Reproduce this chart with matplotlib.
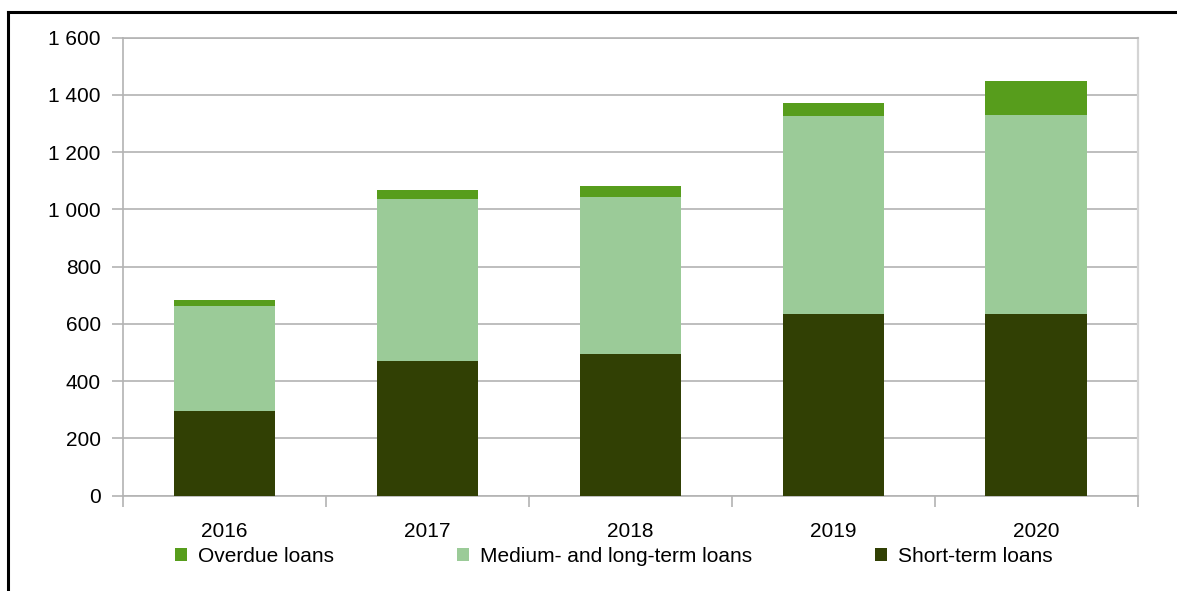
import matplotlib
matplotlib.use("Agg")
import matplotlib.pyplot as plt
from matplotlib.lines import Line2D
from matplotlib.patches import Patch
from matplotlib.ticker import FuncFormatter, FixedLocator
import numpy as np

plt.rcParams['font.family'] = ['Liberation Sans', 'DejaVu Sans']

years = ["2016", "2017", "2018", "2019", "2020"]
short_term = [296, 471, 495, 635, 635]
medium_long_term = [367, 566, 548, 692, 695]
overdue = [21, 31, 38, 44, 118]

series_names = ["Overdue loans", "Medium- and long-term loans", "Short-term loans"]
colors = {"short": "#314004", "medium": "#9bcb98", "overdue": "#579d1c"}

W, H = 1177, 591
fig = plt.figure(figsize=(W / 100, H / 100), dpi=100)
ax = fig.add_axes([123 / W, (H - 495.7) / H, 1014.7 / W, 458 / H])

x = np.arange(len(years))
short_arr = np.array(short_term)
med_arr = np.array(medium_long_term)
over_arr = np.array(overdue)

ax.bar(x, short_arr, width=0.5, color=colors["short"], zorder=3)
ax.bar(x, med_arr, width=0.5, bottom=short_arr, color=colors["medium"], zorder=3)
ax.bar(x, over_arr, width=0.5, bottom=short_arr + med_arr, color=colors["overdue"], zorder=3)

ax.set_xlim(-0.5, len(years) - 0.5)
ax.set_ylim(0, 1600)
ax.set_yticks(np.arange(0, 1601, 200))
ax.yaxis.set_major_formatter(FuncFormatter(lambda v, p: f"{int(v):,}".replace(",", " ")))

ax.set_xticks(x)
ax.set_xticklabels(years)
ax.xaxis.set_minor_locator(FixedLocator(np.arange(-0.5, len(years), 1.0)))

grid_c = "#b3b3b3"
ax.grid(axis="y", color=grid_c, linewidth=1.2, zorder=0)
ax.tick_params(axis="x", which="major", length=0, pad=19, labelsize=15, colors="black")
ax.tick_params(axis="x", which="minor", length=8, width=1.2, color=grid_c)
ax.tick_params(axis="y", length=8, width=1.2, color=grid_c, pad=8, labelsize=15)

for side in ["left", "bottom", "top"]:
    ax.spines[side].set_color(grid_c)
    ax.spines[side].set_linewidth(1.2)
ax.spines["right"].set_color("#d4d4d4")
ax.spines["right"].set_linewidth(1.6)

handles = [Patch(facecolor=colors["overdue"]),
           Patch(facecolor=colors["medium"]),
           Patch(facecolor=colors["short"])]
fig.legend(handles, series_names, ncol=3, loc="center left",
           bbox_to_anchor=(175 / W, (H - 556) / H), frameon=False,
           fontsize=15, handlelength=0.6, handleheight=0.6,
           handletextpad=0.5, columnspacing=5.9, borderpad=0, borderaxespad=0)

# outer frame lines
fig.add_artist(Line2D([8 / W, 1.0], [1 - 12 / H, 1 - 12 / H], color="black",
                      linewidth=2.2, transform=fig.transFigure))
fig.add_artist(Line2D([8 / W, 8 / W], [1 - 12 / H, 0], color="black",
                      linewidth=2.2, transform=fig.transFigure))

fig.savefig("out.png", dpi=100)
